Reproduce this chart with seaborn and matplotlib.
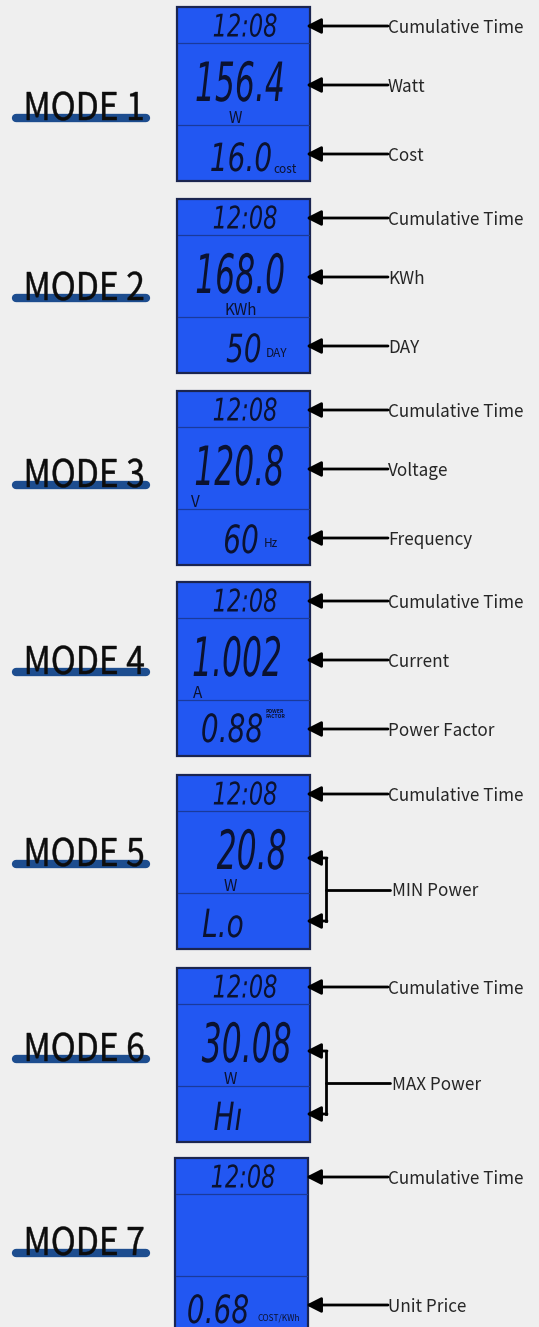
import matplotlib
matplotlib.use('Agg')
import matplotlib.pyplot as plt
from matplotlib.patches import Rectangle
from matplotlib.patheffects import AbstractPathEffect
from matplotlib.transforms import Affine2D
import seaborn as sns

sns.set_theme(style='white')
plt.rcParams['font.family'] = ['Noto Sans CJK SC', 'DejaVu Sans']

# ─── DATA ─────────────────────────────────────────────────────────────────────

modes = ['MODE 1', 'MODE 2', 'MODE 3', 'MODE 4', 'MODE 5', 'MODE 6', 'MODE 7']
time_text = '12:08'
main_values = ['156.4', '168.0', '120.8', '1.002', '20.8', '30.08', '']
main_units = ['W', 'KWh', 'V', 'A', 'W', 'W', '']
sub_values = ['16.0', '50', '60', '0.88', 'L.o', 'Hı', '0.68']
sub_units = ['cost', 'DAY', 'Hz', 'POWER\nFACTOR', '', '', 'COST/KWh']
top_labels = ['Cumulative Time'] * 7
mid_labels = ['Watt', 'KWh', 'Voltage', 'Current', None, None, None]
low_labels = ['Cost', 'DAY', 'Frequency', 'Power Factor', None, None, 'Unit Price']
bracket_labels = [None, None, None, None, 'MIN Power', 'MAX Power', None]

# ─── LAYOUT ───────────────────────────────────────────────────────────────────

W, H = 539, 1327
panel_top = [7, 199, 391, 582, 775, 968, 1158]
panel_left = [177, 177, 177, 177, 177, 177, 175]
panel_w, panel_h = 133, 174
mode_base = [120, 300, 487, 674, 866, 1061, 1255]
main_x = [240, 240, 239, 237, 252, 247, 240]
unit_x = [235, 241, 195, 198, 230, 230, 240]
sub_x = [241, 244, 241, 232, 223, 228, 218]
sub_base = [164, 163, 162, 160, 162, 162, 165]
sub_unit_x = [273, 266, 264, 266, 0, 0, 258]
sub_unit_base = [166, 158, 156, 136, 0, 0, 163]

BG = '#efefef'
LCD = '#2257f2'
LCD_EDGE = '#1b2550'
LCD_DIV = '#1a3a9c'
INK = '#0b1230'
BAR = '#1d4d8f'
TXT = '#262626'

DIGIT_FONT = ['DejaVu Sans']
LABEL_SIZE = 12.3


class Squeeze(AbstractPathEffect):
    """Narrow the glyphs horizontally around their own centre (LCD look),
    optionally with a thin outline to thicken the strokes."""

    def __init__(self, sx, stroke=0.0):
        super().__init__()
        self.sx = sx
        self.stroke = stroke

    def draw_path(self, renderer, gc, tpath, affine, rgbFace=None):
        ext = tpath.get_extents()
        cx = (ext.x0 + ext.x1) / 2
        squeeze = Affine2D().translate(-cx, 0).scale(self.sx, 1).translate(cx, 0)
        if self.stroke and rgbFace is not None:
            gc0 = renderer.new_gc()
            gc0.copy_properties(gc)
            gc0.set_linewidth(self.stroke)
            gc0.set_foreground(rgbFace)
            renderer.draw_path(gc0, tpath, squeeze + affine, rgbFace)
            gc0.restore()
        else:
            renderer.draw_path(gc, tpath, squeeze + affine, rgbFace)


fig = plt.figure(figsize=(W / 100, H / 100), dpi=100, facecolor=BG)
ax = fig.add_axes([0, 0, 1, 1])
ax.set_xlim(0, W)
ax.set_ylim(H, 0)
ax.axis('off')


def arrow(ax, y, x_from=388, x_to=306):
    ax.annotate('', xy=(x_to, y), xytext=(x_from, y),
                arrowprops=dict(arrowstyle='-|>,head_length=0.75,head_width=0.38',
                                color='black', lw=2.0, shrinkA=0, shrinkB=0),
                zorder=5)


def label(ax, x, y, s):
    ax.text(x, y, s, fontsize=LABEL_SIZE, color=TXT, ha='left', va='center_baseline')


for i, mode in enumerate(modes):
    top = panel_top[i]
    left = panel_left[i]

    # mode title with underline bar
    ax.plot([16, 146], [mode_base[i] - 2, mode_base[i] - 2], color=BAR, lw=6,
            solid_capstyle='round', zorder=2)
    ax.text(84, mode_base[i], mode, fontsize=27.5, color='#0d0d0d',
            ha='center', va='baseline', zorder=3,
            path_effects=[Squeeze(0.88, stroke=0.3)])

    # LCD panel
    ax.add_patch(Rectangle((left, top), panel_w, panel_h, facecolor=LCD,
                           edgecolor=LCD_EDGE, lw=1.6, zorder=2))
    for dy in (36, 118):
        ax.plot([left + 1, left + panel_w - 1], [top + dy, top + dy],
                color=LCD_DIV, lw=0.9, zorder=3)

    ax.text(left + 68, top + 29.5, time_text, fontsize=22.5, family=DIGIT_FONT,
            style='italic', color=INK, ha='center', va='baseline', zorder=4,
            path_effects=[Squeeze(0.72)])
    if main_values[i]:
        ax.text(main_x[i], top + 94, main_values[i], fontsize=39, family=DIGIT_FONT,
                style='italic', color=INK, ha='center', va='baseline', zorder=4,
                path_effects=[Squeeze(0.58)])
        ax.text(unit_x[i], top + 116, main_units[i], fontsize=11, color=INK,
                ha='center', va='baseline', zorder=4)
    ax.text(sub_x[i], top + sub_base[i], sub_values[i], fontsize=28, family=DIGIT_FONT,
            style='italic', color=INK, ha='center', va='baseline', zorder=4,
            path_effects=[Squeeze(0.72)])
    if sub_units[i]:
        two_line = '\n' in sub_units[i]
        small = 3.6 if two_line else (6 if len(sub_units[i]) > 4 else 8.5)
        ax.text(sub_unit_x[i], top + sub_unit_base[i], sub_units[i], fontsize=small,
                color=INK, ha='left', va='baseline', linespacing=0.95,
                fontweight='bold' if two_line else 'normal', zorder=4)

    # callouts
    label(ax, 388, top + 19, top_labels[i])
    arrow(ax, top + 19)
    if mid_labels[i]:
        label(ax, 388, top + 78, mid_labels[i])
        arrow(ax, top + 78)
    if low_labels[i]:
        label(ax, 388, top + 147, low_labels[i])
        arrow(ax, top + 147)
    if bracket_labels[i]:
        y1, y2 = top + 83, top + 146
        ym = (y1 + y2) / 2
        ax.plot([326, 326], [y1, y2], color='black', lw=2.0, zorder=2,
                solid_capstyle='projecting')
        ax.plot([326, 390], [ym, ym], color='black', lw=2.0, zorder=2)
        arrow(ax, y1, x_from=327)
        arrow(ax, y2, x_from=327)
        label(ax, 392, ym, bracket_labels[i])

fig.savefig('out.png', dpi=100, facecolor=BG)
